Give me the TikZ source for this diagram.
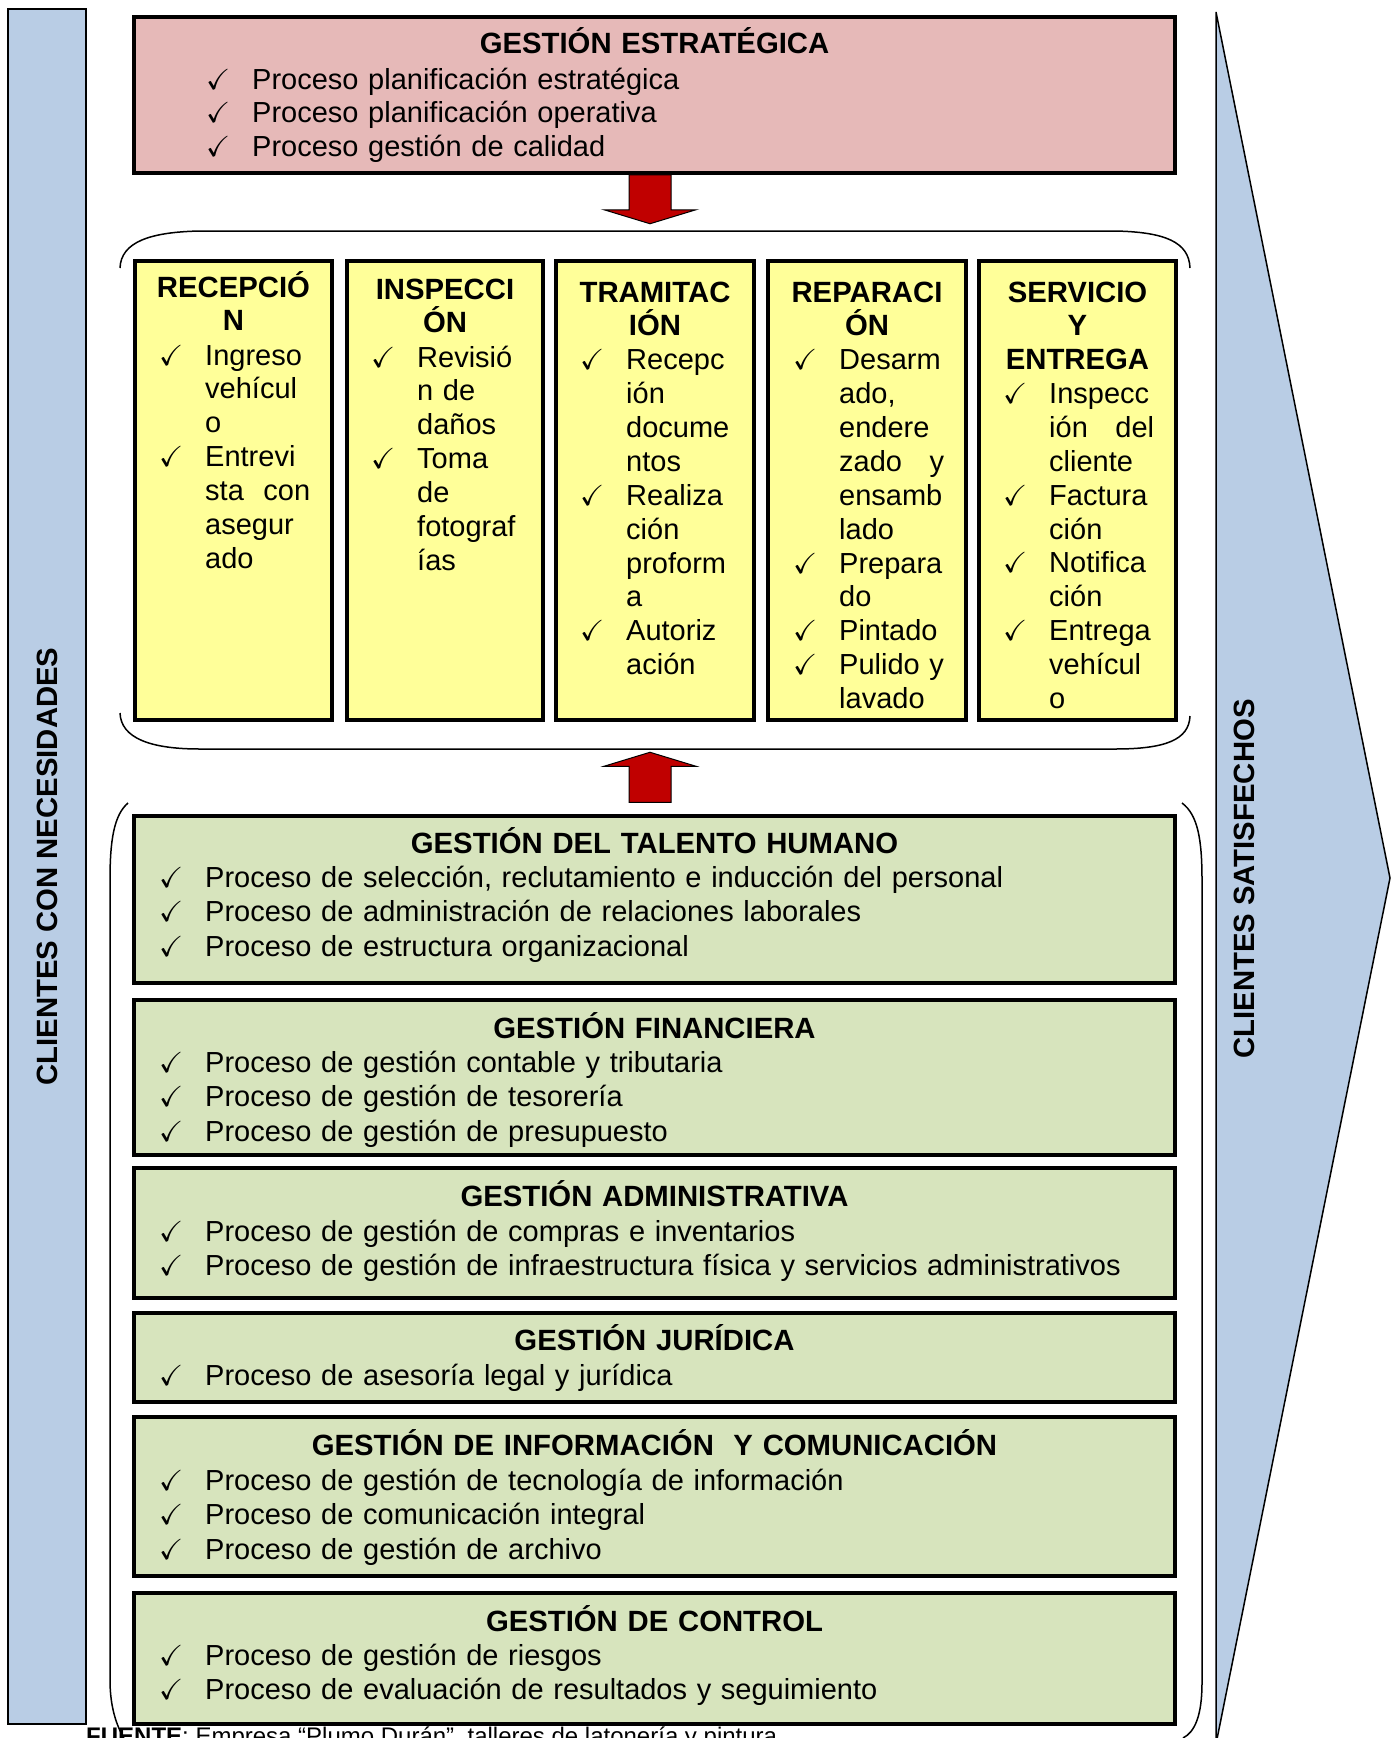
\documentclass[tikz,border=0pt]{standalone}
\usepackage{fontspec}
\usepackage{amssymb}
\setmainfont{Liberation Sans}

\definecolor{clientblue}{RGB}{185,205,229}
\definecolor{estrapink}{RGB}{230,185,184}
\definecolor{opyellow}{RGB}{255,255,153}
\definecolor{supgreen}{RGB}{215,228,189}
\definecolor{arrowred}{RGB}{192,0,0}

\newcommand{\bigf}{\fontsize{29}{33.9}\selectfont}
\newcommand{\hdrf}{\fontsize{29.3}{33.9}\selectfont\bfseries}
\newcommand{\chkm}{\makebox[46pt][l]{$\checkmark$}}
\newcommand{\indt}{\hspace*{46pt}}
\newcommand{\jst}[2]{\hbox to 105pt{#1\hfill #2}}

\begin{document}
\begin{tikzpicture}[x=1pt, y=-1pt,
  every node/.style={font=\bigf, inner sep=0pt},
  box/.style={draw=black, line width=3.5pt, rectangle},
  side/.style={draw=black, line width=1.5pt, fill=clientblue},
  hdr/.style={font=\hdrf, anchor=base, text width=200pt, align=center},
  lst/.style={anchor=base west, text width=1000pt, align=left, font=\fontsize{29}{34.5}\selectfont},
  col/.style={anchor=base west, text width=170pt, align=left},
  blk/.style={draw=black, line width=1pt, fill=arrowred},
  brace/.style={draw=black, line width=1.5pt}]

\useasboundingbox (0,0) rectangle (1399,1738);
\clip (0,0) rectangle (1399,1738);

% --- Clientes ---
\node[side, rotate=90, minimum width=1715pt, minimum height=78pt, font=\hdrf] (needs) at (47,866.5) {CLIENTES CON NECESIDADES};
\draw[side] (1216,12) -- (1390,878) -- (1216,1744) -- cycle;
\node[rotate=90, font=\hdrf] (satisf) at (1244,879) {CLIENTES SATISFECHOS};

% --- Gestion estrategica ---
\node[box, fill=estrapink, minimum width=1041pt, minimum height=156pt] (strat) at (654.5,95) {};
\node[hdr, text width=900pt] (strat-t) at (654.5,53) {GESTIÓN ESTRATÉGICA};
\node[lst, font=\fontsize{29}{33.7}\selectfont] (strat-l) at (206,89) {\chkm Proceso planificación estratégica\\ \chkm Proceso planificación operativa\\ \chkm Proceso gestión de calidad};

\draw[blk] ([xshift=-25.5pt]strat.south) -- ++(42,0) -- ++(0,35) -- ++(25,0) -- ++(-46,14) -- ++(-46,-14) -- ++(25,0) -- cycle;

% --- Procesos operativos ---
\draw[brace] (120,268) .. controls (121,242) and (150,232) .. (200,231) -- (1115,231) .. controls (1165,232) and (1189,242) .. (1190,268);
\draw[brace] (120,713) .. controls (121,738) and (150,749) .. (200,749) -- (1115,749) .. controls (1165,749) and (1189,740) .. (1190,716);

\node[box, fill=opyellow, minimum width=197pt, minimum height=459pt] (recep) at (233.5,490.5) {};
\node[hdr, text width=190pt] (recep-t) at (233.5,297) {RECEPCIÓ\\N};
\node[col] (recep-l) at (159,365) {\chkm Ingreso\\ \indt vehícul\\ \indt o\\ \chkm Entrevi\\ \indt\jst{sta}{con}\\ \indt asegur\\ \indt ado};

\node[box, fill=opyellow, minimum width=196pt, minimum height=459pt] (insp) at (445,490.5) {};
\node[hdr, text width=190pt] (insp-t) at (445,299) {INSPECCI\\ÓN};
\node[col] (insp-l) at (371,367) {\chkm Revisió\\ \indt n de\\ \indt daños\\ \chkm Toma\\ \indt de\\ \indt fotograf\\ \indt ías};

\node[box, fill=opyellow, minimum width=198pt, minimum height=459pt] (trami) at (655,490.5) {};
\node[hdr, text width=190pt] (trami-t) at (655,302) {TRAMITAC\\IÓN};
\node[col] (trami-l) at (580,369.6) {\chkm Recepc\\ \indt ión\\ \indt docume\\ \indt ntos\\ \chkm Realiza\\ \indt ción\\ \indt proform\\ \indt a\\ \chkm Autoriz\\ \indt ación};

\node[box, fill=opyellow, minimum width=198pt, minimum height=459pt] (repar) at (867,490.5) {};
\node[hdr, text width=190pt] (repar-t) at (867,302) {REPARACI\\ÓN};
\node[col] (repar-l) at (793,369.6) {\chkm Desarm\\ \indt ado,\\ \indt endere\\ \indt\jst{zado}{y}\\ \indt ensamb\\ \indt lado\\ \chkm Prepara\\ \indt do\\ \chkm Pintado\\ \chkm Pulido y\\ \indt lavado};

\node[box, fill=opyellow, minimum width=197pt, minimum height=459pt] (serv) at (1077.5,490.5) {};
\node[hdr, text width=190pt] (serv-t) at (1077.5,302) {SERVICIO\\Y\\ENTREGA};
\node[col] (serv-l) at (1003,403.4) {\chkm Inspecc\\ \indt\jst{ión}{del}\\ \indt cliente\\ \chkm Factura\\ \indt ción\\ \chkm Notifica\\ \indt ción\\ \chkm Entrega\\ \indt vehícul\\ \indt o};

% --- Procesos de apoyo ---
\draw[brace] (128,803) .. controls (114,815) and (110,840) .. (110,880) -- (110,1680) .. controls (110,1710) and (118,1730) .. (128,1745);
\draw[brace] (1182,803) .. controls (1198,815) and (1202,840) .. (1202,880) -- (1202,1683) .. controls (1202,1715) and (1195,1732) .. (1183,1738);

\node[box, fill=supgreen, minimum width=1041pt, minimum height=167pt] (talento) at (654.5,899.5) {};
\node[hdr, text width=1000pt] (talento-t) at (654.5,853) {GESTIÓN DEL TALENTO HUMANO};
\node[lst] (talento-l) at (159,887) {\chkm Proceso de selección, reclutamiento e inducción del personal\\ \chkm Proceso de administración de relaciones laborales\\ \chkm Proceso de estructura organizacional};

\draw[blk] ([xshift=-25.5pt, yshift=12pt]talento.north) -- ++(42,0) -- ++(0,-36) -- ++(25,0) -- ++(-46,-14) -- ++(-46,14) -- ++(25,0) -- cycle;

\node[box, fill=supgreen, minimum width=1041pt, minimum height=155pt] (finan) at (654.5,1077.5) {};
\node[hdr, text width=1000pt] (finan-t) at (654.5,1038) {GESTIÓN FINANCIERA};
\node[lst] (finan-l) at (159,1072) {\chkm Proceso de gestión contable y tributaria\\ \chkm Proceso de gestión de tesorería\\ \chkm Proceso de gestión de presupuesto};

\node[box, fill=supgreen, minimum width=1041pt, minimum height=130pt] (admin) at (654.5,1233) {};
\node[hdr, text width=1000pt] (admin-t) at (654.5,1206) {GESTIÓN ADMINISTRATIVA};
\node[lst] (admin-l) at (159,1241) {\chkm Proceso de gestión de compras e inventarios\\ \chkm Proceso de gestión de infraestructura física y servicios administrativos};

\node[box, fill=supgreen, minimum width=1041pt, minimum height=89pt] (jurid) at (654.5,1357.5) {};
\node[hdr, text width=1000pt] (jurid-t) at (654.5,1350) {GESTIÓN JURÍDICA};
\node[lst] (jurid-l) at (159,1385) {\chkm Proceso de asesoría legal y jurídica};

\node[box, fill=supgreen, minimum width=1041pt, minimum height=159pt] (info) at (654.5,1496.5) {};
\node[hdr, text width=1000pt] (info-t) at (654.5,1455) {GESTIÓN DE INFORMACIÓN\ \ Y COMUNICACIÓN};
\node[lst] (info-l) at (159,1490) {\chkm Proceso de gestión de tecnología de información\\ \chkm Proceso de comunicación integral\\ \chkm Proceso de gestión de archivo};

\node[box, fill=supgreen, minimum width=1041pt, minimum height=131pt] (control) at (654.5,1658.5) {};
\node[hdr, text width=1000pt] (control-t) at (654.5,1631) {GESTIÓN DE CONTROL};
\node[lst] (control-l) at (159,1665) {\chkm Proceso de gestión de riesgos\\ \chkm Proceso de evaluación de resultados y seguimiento};

% --- Fuente ---
\node[anchor=base west, font=\fontsize{24}{28}\selectfont] (fuente) at (86,1744) {\textbf{FUENTE}: Empresa “Plumo Durán”, talleres de latonería y pintura};

\end{tikzpicture}
\end{document}
